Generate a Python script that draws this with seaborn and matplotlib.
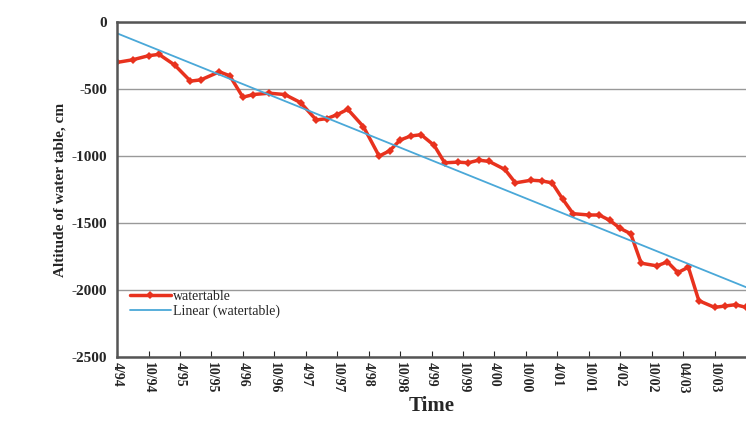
import numpy as np
import pandas as pd
import matplotlib
matplotlib.use("Agg")
import matplotlib.pyplot as plt
import seaborn as sns

# months since 4/94 and water table altitude (cm)
months = [0, 3, 6, 8, 11, 14, 16, 19.5, 21.5, 24, 26, 29, 32, 35, 38, 40, 42, 44, 47,
          50, 52, 54, 56, 58, 60.5, 62.5, 65, 67, 69, 71, 74, 76, 79, 81, 83, 85, 87,
          90, 92, 94, 96, 98, 100, 103, 105, 107, 109, 111, 114, 116, 118, 120]
level = [-300, -280, -250, -240, -320, -440, -430, -370, -400, -560, -540, -530, -540,
         -600, -730, -720, -690, -650, -780, -1000, -960, -880, -850, -840, -920, -1050,
         -1045, -1050, -1030, -1040, -1100, -1200, -1180, -1185, -1200, -1320, -1430,
         -1440, -1440, -1480, -1540, -1580, -1800, -1820, -1790, -1870, -1830, -2080,
         -2130, -2120, -2110, -2130]
tick_labels = ["4/94", "10/94", "4/95", "10/95", "4/96", "10/96", "4/97", "10/97",
               "4/98", "10/98", "4/99", "10/99", "4/00", "10/00", "4/01", "10/01",
               "4/02", "10/02", "04/03", "10/03"]

df = pd.DataFrame({"month": months, "level": level})
slope, icpt = np.polyfit(df["month"], df["level"], 1)
df["trend"] = slope * df["month"] + icpt

sns.set_style("white")
plt.rcParams["font.family"] = ["Liberation Serif", "DejaVu Serif"]

fig = plt.figure(figsize=(7.46, 4.45), dpi=100)
ax = fig.add_axes([0.157, 0.198, 0.843, 0.752])
sns.lineplot(data=df, x="month", y="level", color="#e8321e", lw=2.5, marker="D",
             markersize=4, markeredgewidth=0, label="watertable", ax=ax)
sns.lineplot(data=df, x="month", y="trend", color="#4aa8d8", lw=1.3,
             label="Linear (watertable)", ax=ax)

ax.set_xlim(0, 120)
ax.set_ylim(-2500, 0)
ax.set_yticks(range(-2500, 1, 500))
ax.set_yticklabels([str(v) for v in range(-2500, 1, 500)], fontsize=11, fontweight="bold")
ax.set_xticks(np.arange(len(tick_labels)) * 6)
ax.set_xticklabels(tick_labels, rotation=-90, fontsize=10, fontweight="bold")
ax.tick_params(axis="x", direction="in", length=4, bottom=True)
ax.yaxis.grid(True, color="#999999", lw=1)
for s in ax.spines.values():
    s.set_color("#555555")
    s.set_linewidth(1.8)
ax.spines["right"].set_visible(False)
ax.set_xlabel("Time", fontsize=15, fontweight="bold", labelpad=2)
ax.set_ylabel("Altitude of water table, cm", fontsize=11, fontweight="bold")
ax.legend(loc="lower left", bbox_to_anchor=(0.0, 0.08), frameon=False, fontsize=10,
          handlelength=3, handletextpad=0.1, labelspacing=0.1)
fig.savefig("out.png", dpi=100)
